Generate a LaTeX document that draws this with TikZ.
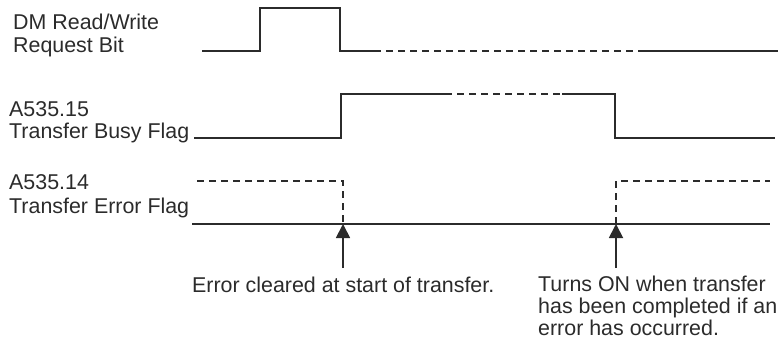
\documentclass[tikz,border=0pt]{standalone}
\usepackage{fontspec}
\setmainfont{Liberation Sans}
\usetikzlibrary{arrows.meta}
\definecolor{ink}{HTML}{2B2B2B}
\tikzset{
  sig/.style={draw=ink, line width=1.4pt, line join=miter},
  dsig/.style={sig, dash pattern=on 7pt off 5pt},
  pointer/.style={draw=ink, line width=1.8pt, -{Triangle[width=14pt,length=14pt]}},
  lbl/.style={anchor=base west, inner sep=0pt, text=ink, font=\fontsize{21.4}{23}\selectfont}
}
\begin{document}
\begin{tikzpicture}[x=1pt,y=-1pt]
\useasboundingbox (0,0) rectangle (779,342);
% labels
\node[lbl] (l1a) at (13,30) {DM Read/Write};
\node[lbl] (l1b) at (13,53) {Request Bit};
\node[lbl] (l2a) at (9,117) {A535.15};
\node[lbl] (l2b) at (9,139) {Transfer Busy Flag};
\node[lbl] (l3a) at (9,189) {A535.14};
\node[lbl] (l3b) at (9,213) {Transfer Error Flag};
\node[lbl] (n1) at (192,292) {Error cleared at start of transfer.};
\node[lbl] (n2a) at (538,291) {Turns ON when transfer};
\node[lbl] (n2b) at (538,313) {has been completed if an};
\node[lbl] (n2c) at (538,335) {error has occurred.};
% signal 1
\draw[sig] (202,51) -- (260,51) -- (260,8) -- (340,8) -- (340,51) -- (374,51);
\draw[dsig] (374,51) -- (642,51);
\draw[sig] (642,51) -- (778,51);
% signal 2
\draw[sig] (194,138) -- (341,138) -- (341,94) -- (445,94);
\draw[dsig] (445,94) -- (562,94);
\draw[sig] (562,94) -- (615,94) -- (615,138) -- (775,138);
% signal 3
\draw[sig] (192,224) -- (770,224);
\draw[dsig] (197,181) -- (343,181) -- (343,224);
\draw[dsig] (616,224) -- (616,181) -- (770,181);
% pointers
\coordinate (t1) at (343,224);
\coordinate (b1) at (343,268);
\coordinate (t2) at (616,224);
\coordinate (b2) at (616,268);
\draw[pointer] (b1) -- (t1);
\draw[pointer] (b2) -- (t2);
\end{tikzpicture}
\end{document}
